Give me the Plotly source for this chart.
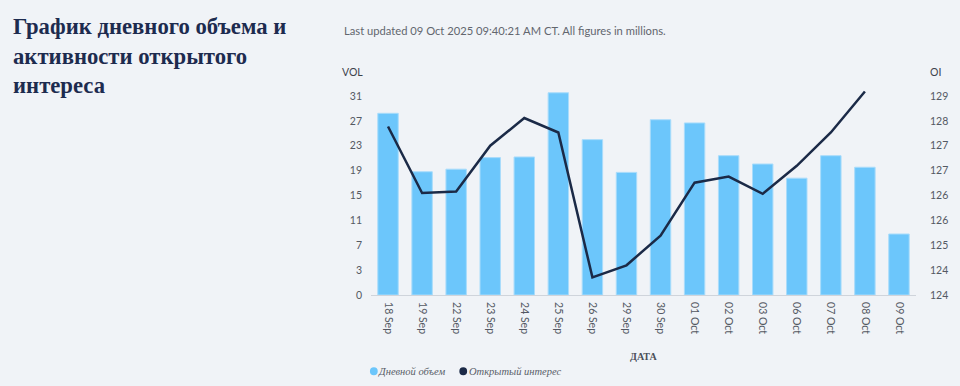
import plotly.graph_objects as go
import numpy as np

dates = ["18 Sep", "19 Sep", "22 Sep", "23 Sep", "24 Sep", "25 Sep", "26 Sep", "29 Sep",
         "30 Sep", "01 Oct", "02 Oct", "03 Oct", "06 Oct", "07 Oct", "08 Oct", "09 Oct"]
volume = [28.3, 19.2, 19.6, 21.4, 21.5, 31.5, 24.2, 19.1, 27.3, 26.8, 21.7, 20.4, 18.2, 21.7, 19.9, 9.5]
open_interest = [128.40, 126.74, 126.78, 127.92, 128.61, 128.25, 124.64, 124.94,
                 125.68, 127.00, 127.15, 126.72, 127.42, 128.25, 129.27, None]
vol_tick_labels = ["0", "3", "7", "11", "15", "19", "23", "27", "31"]
oi_tick_labels = ["124", "124", "125", "126", "126", "127", "127", "128", "129"]

VOL_MIN, VOL_MAX = 0, 31
OI_MIN, OI_MAX = 124.2, 129.16

BG = "#f0f3f7"
BAR = "#6cc6fb"
LINE = "#1b2a47"
TICK = "#545963"

# plot area geometry (px)
L, R, T, B = 370.6, 31.6, 88, 90.5
W, H = 960, 386
plot_w = W - L - R
plot_h = H - T - B
tick_span = 199.5  # px between first and last tick
extra = (plot_h - tick_span) / tick_span

vol_range = [VOL_MIN, VOL_MAX + (VOL_MAX - VOL_MIN) * extra]
oi_range = [OI_MIN, OI_MAX + (OI_MAX - OI_MIN) * extra]


def px_x(x):
    return (x - L) / plot_w


def px_y(y):
    return ((H - B) - y) / plot_h


fig = go.Figure()
fig.add_trace(go.Bar(x=dates, y=volume, name="Дневной объем",
                     marker=dict(color=BAR, line=dict(color="#a9dcfb", width=1)),
                     showlegend=False, yaxis="y"))
fig.add_trace(go.Scatter(x=dates, y=open_interest, name="Открытый интерес", mode="lines",
                         line=dict(color=LINE, width=2.5), showlegend=False, yaxis="y2",
                         connectgaps=False))

fig.update_layout(
    width=W, height=H,
    paper_bgcolor=BG, plot_bgcolor=BG,
    margin=dict(l=L, r=R, t=T, b=B, pad=0),
    bargap=0.4,
    font=dict(family="Lato", color=TICK, size=11),
    xaxis=dict(type="category", tickangle=90, showgrid=False, zeroline=False,
               showline=True, linecolor="#cfd4db", linewidth=1, ticks="",
               tickfont=dict(family="Lato", size=10.5, color=TICK),
               ticklabelstandoff=4, fixedrange=True),
    yaxis=dict(range=vol_range, tickvals=list(np.linspace(VOL_MIN, VOL_MAX, 9)),
               ticktext=vol_tick_labels, showgrid=False, zeroline=False, showline=False,
               ticks="", ticklabelstandoff=8,
               tickfont=dict(family="Lato", size=10.5, color=TICK)),
    yaxis2=dict(range=oi_range, tickvals=list(np.linspace(OI_MIN, OI_MAX, 9)),
                ticktext=oi_tick_labels, overlaying="y", side="right", showgrid=False,
                zeroline=False, showline=False, ticks="", ticklabelstandoff=13,
                tickfont=dict(family="Lato", size=10.5, color=TICK)),
)

annotations = [
    dict(text="<b>График дневного объема и<br>активности открытого<br>интереса</b>",
         xref="paper", yref="paper", x=px_x(2), y=px_y(12),
         xanchor="left", yanchor="top", align="left", showarrow=False,
         font=dict(family="Liberation Serif", size=22.7, color="#1d2b4f")),
    dict(text="Last updated 09 Oct 2025 09:40:21 AM CT. All figures in millions.",
         xref="paper", yref="paper", x=px_x(341), y=px_y(30),
         xanchor="left", yanchor="middle", showarrow=False,
         font=dict(family="Lato", size=11.2, color="#62666e")),
    dict(text="VOL", xref="paper", yref="paper", x=px_x(364),
         y=px_y(72), xanchor="right", yanchor="middle", showarrow=False,
         font=dict(family="Lato", size=10.5, color="#3d424b")),
    dict(text="OI", xref="paper", yref="paper", x=px_x(941),
         y=px_y(72), xanchor="left", yanchor="middle", showarrow=False,
         font=dict(family="Lato", size=10.5, color="#3d424b")),
    dict(text="<b>ДАТА</b>", xref="paper", yref="paper", x=0.5,
         y=px_y(357), xanchor="center", yanchor="middle", showarrow=False,
         font=dict(family="Liberation Serif", size=10, color="#4a4f58")),
    dict(text="<i>Дневной объем</i>", xref="paper", yref="paper", x=px_x(376),
         y=px_y(372), xanchor="left", yanchor="middle", showarrow=False,
         font=dict(family="Liberation Serif", size=10.5, color="#5a5f69")),
    dict(text="<i>Открытый интерес</i>", xref="paper", yref="paper", x=px_x(469),
         y=px_y(372), xanchor="left", yanchor="middle", showarrow=False,
         font=dict(family="Liberation Serif", size=10.5, color="#5a5f69")),
]
fig.update_layout(annotations=annotations)

for cx, col in [(373.5, BAR), (465, LINE)]:
    fig.add_shape(type="circle", xref="paper", yref="paper",
                  x0=px_x(cx - 4), x1=px_x(cx + 4), y0=px_y(376), y1=px_y(368),
                  fillcolor=col, line=dict(width=0))

fig.write_html("out.html", config={"displayModeBar": False},
               post_script="document.body.style.margin='0';document.body.style.background='%s';" % BG)
